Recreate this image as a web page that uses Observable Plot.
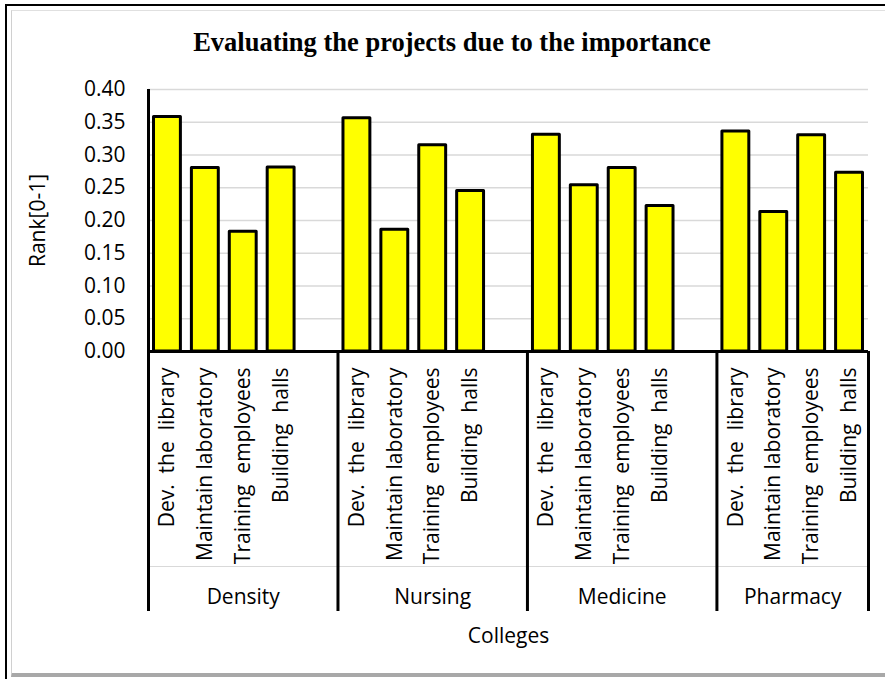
<!DOCTYPE html>
<html>
<head>
<meta charset="utf-8">
<script src="https://cdn.jsdelivr.net/npm/d3@7"></script>
<script src="https://cdn.jsdelivr.net/npm/@observablehq/plot@0.6"></script>
<style>
  html, body { margin: 0; padding: 0; background: #fff; overflow: hidden; }
  #wrap { position: relative; width: 885px; height: 679px; overflow: hidden; background: #fff; }
  #title { position: absolute; left: 0; width: 904px; top: 27px; text-align: center;
           font: bold 26.5px "Liberation Serif", "Times New Roman", serif; line-height: 30px; color: #000; z-index: 2; }
  #chart { position: absolute; left: 0; top: 0; }
  #chart svg text { white-space: pre; }
  #frame1 { position: absolute; left: 5px; top: 4px; width: 900px; height: 700px;
            border: 2.5px solid #000; box-sizing: border-box; pointer-events: none; z-index: 3; }
  #frame2 { position: absolute; left: 11px; top: 10px; width: 890px; height: 667px;
            border-left: 1px solid #d0d0d0; border-top: 1px solid #e0e0e0; border-bottom: 4px solid #a8a8a8;
            box-sizing: border-box; pointer-events: none; z-index: 3; }
</style>
</head>
<body>
<div id="wrap">
  <div id="title">Evaluating the projects due to the importance</div>
  <div id="chart"></div>
  <div id="frame1"></div>
  <div id="frame2"></div>
</div>
<script>
const colleges = ["Density", "Nursing", "Medicine", "Pharmacy"];
const projects = ["Dev.  the  library", "Maintain laboratory", "Training  employees", "Building  halls"];
const density  = [0.358, 0.280, 0.183, 0.281];
const nursing  = [0.356, 0.186, 0.315, 0.245];
const medicine = [0.331, 0.254, 0.280, 0.222];
const pharmacy = [0.336, 0.213, 0.330, 0.273];
const yTicks = [0.00, 0.05, 0.10, 0.15, 0.20, 0.25, 0.30, 0.35, 0.40];
const yTitle = "Rank[0-1]";
const xTitle = "Colleges";

const series = [density, nursing, medicine, pharmacy];
const slotsPerGroup = projects.length + 1; // one blank slot between colleges
const totalSlots = colleges.length * slotsPerGroup - 1;

const rows = colleges.flatMap((c, g) => projects.map((p, k) => ({
  college: c, project: p, value: series[g][k], slot: g * slotsPerGroup + k
})));
const groupStarts = colleges.map((c, g) => g * slotsPerGroup);
const groupBounds = [...groupStarts, totalSlots];
const groupCenters = colleges.map((c, g) => ({
  college: c, center: (groupBounds[g] + Math.min(groupBounds[g + 1], groupBounds[g] + slotsPerGroup)) / 2
}));

const font = "Open Sans, Noto Sans, sans-serif";
const fs = 21;

const chart = Plot.plot({
  width: 885,
  height: 679,
  marginLeft: 148,
  marginRight: 17,
  marginTop: 89,
  marginBottom: 328,
  style: { fontFamily: font, fontSize: fs + "px", color: "#000", background: "transparent", overflow: "visible" },
  x: { domain: [0, totalSlots], axis: null },
  y: { domain: [0, 0.4], axis: null },
  marks: [
    Plot.gridY(yTicks, { stroke: "#d9d9d9", strokeOpacity: 1, strokeWidth: 1.5 }),
    Plot.axisY(yTicks, { tickSize: 0, tickPadding: 23, tickFormat: d3.format(".2f"), label: null,
                         fontSize: fs, fill: "#000" }),
    Plot.text([yTitle], { frameAnchor: "left", dx: -110, rotate: -90, textAnchor: "middle",
                          lineAnchor: "middle", fontSize: fs, fill: "#000" }),
    Plot.rect(rows, { x1: "slot", x2: d => d.slot + 1, y1: 0, y2: "value",
                      insetLeft: 5.5, insetRight: 5.5, fill: "#ffff00", stroke: "#000",
                      strokeWidth: 3, strokeLinejoin: "round" }),
    Plot.ruleY([0], { dy: 215, stroke: "#d9d9d9", strokeWidth: 1 }),
    Plot.ruleX([0], { y1: 0, y2: 0.4, stroke: "#000", strokeWidth: 3 }),
    Plot.ruleX(groupBounds, { y1: 0, y2: 0, insetBottom: -260, stroke: "#000", strokeWidth: 3 }),
    Plot.ruleY([0], { stroke: "#000", strokeWidth: 3 }),
    Plot.text(rows, { x: d => d.slot + 0.5, y: 0, text: "project", rotate: -90, textAnchor: "end",
                      lineAnchor: "middle", dy: 16, fontSize: fs, fill: "#000" }),
    Plot.text(groupCenters, { x: "center", y: 0, text: "college", dy: 246, lineAnchor: "middle",
                              fontSize: fs, fill: "#000" }),
    Plot.text([xTitle], { frameAnchor: "bottom", textAnchor: "middle", lineAnchor: "middle",
                          dy: 285, fontSize: fs, fill: "#000" })
  ]
});
document.getElementById("chart").appendChild(chart);
</script>
</body>
</html>
